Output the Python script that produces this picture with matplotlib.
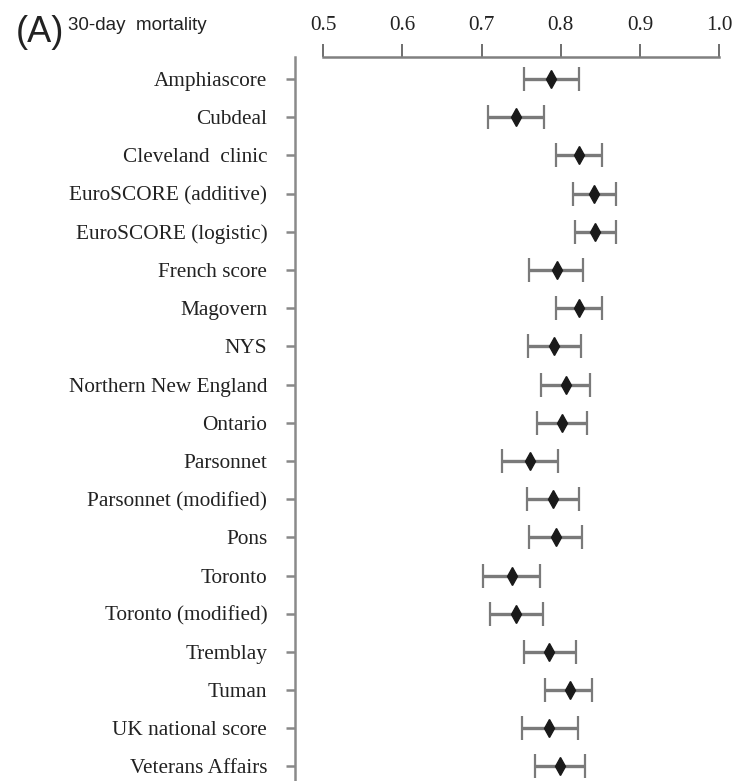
import numpy as np
import matplotlib.pyplot as plt

# ================= DATA =================
models = [
    "Amphiascore", "Cubdeal", "Cleveland  clinic", "EuroSCORE (additive)",
    "EuroSCORE (logistic)", "French score", "Magovern", "NYS",
    "Northern New England", "Ontario", "Parsonnet", "Parsonnet (modified)",
    "Pons", "Toronto", "Toronto (modified)", "Tremblay", "Tuman",
    "UK national score", "Veterans Affairs",
]
auc = [0.788, 0.743, 0.823, 0.842, 0.843, 0.795, 0.823, 0.791, 0.806,
       0.802, 0.761, 0.790, 0.794, 0.738, 0.743, 0.785, 0.811, 0.785, 0.799]
ci_low = [0.754, 0.708, 0.794, 0.816, 0.818, 0.760, 0.794, 0.759, 0.775,
          0.770, 0.726, 0.757, 0.760, 0.702, 0.711, 0.754, 0.780, 0.751, 0.767]
ci_high = [0.823, 0.779, 0.852, 0.870, 0.870, 0.828, 0.852, 0.825, 0.837,
           0.833, 0.797, 0.823, 0.827, 0.774, 0.778, 0.819, 0.840, 0.822, 0.831]
xticks = [0.5, 0.6, 0.7, 0.8, 0.9, 1.0]
xticklabels = ["0.5", "0.6", "0.7", "0.8", "0.9", "1.0"]

# ================= PLOT =================
W, H = 738, 781
fig = plt.figure(figsize=(W / 100, H / 100), dpi=100)
ax = fig.add_axes([295 / W, 0, (W - 295) / W, 1 - 57 / H])

y = np.arange(len(models))
auc = np.array(auc)
err = np.vstack([auc - np.array(ci_low), np.array(ci_high) - auc])

ax.errorbar(auc, y, xerr=err, fmt='none', ecolor='#7a7a7a',
            elinewidth=2.4, capsize=8.3, capthick=1.6, zorder=2)
ax.plot(auc, y, 'd', color='#1a1a1a', markersize=9, zorder=3)

ax.set_xlim(0.4646, 1.0236)
ax.set_ylim(18.38, -0.576)

ax.xaxis.tick_top()
ax.set_xticks(xticks)
ax.set_xticklabels(xticklabels)
ax.set_yticks(y)
ax.set_yticklabels(models)

serif = ['Liberation Serif', 'DejaVu Serif']
for lab in ax.get_xticklabels() + ax.get_yticklabels():
    lab.set_family(serif)
    lab.set_fontsize(15.3)
    lab.set_color('#222222')

ax.tick_params(axis='x', direction='out', length=9.5, width=1.2,
               color='#555555', pad=6)
ax.tick_params(axis='y', direction='out', length=6.5, width=1.8,
               color='#888888', pad=13.5)

for s in ['right', 'bottom']:
    ax.spines[s].set_visible(False)
ax.spines['top'].set_bounds(0.5, 1.0)
ax.spines['top'].set_color('#808080')
ax.spines['top'].set_linewidth(1.8)
ax.spines['left'].set_color('#8a8a8a')
ax.spines['left'].set_linewidth(1.8)

# panel label
sans = ['Liberation Sans', 'DejaVu Sans']
fig.text(16 / W, 1 - 33 / H, "(A)", family=sans, fontsize=26,
         va='center', ha='left', color='#222222')
fig.text(68 / W, 1 - 25 / H, "30-day  mortality", family=sans, fontsize=13.5,
         va='center', ha='left', color='#222222')

fig.savefig("out.png", dpi=100)
